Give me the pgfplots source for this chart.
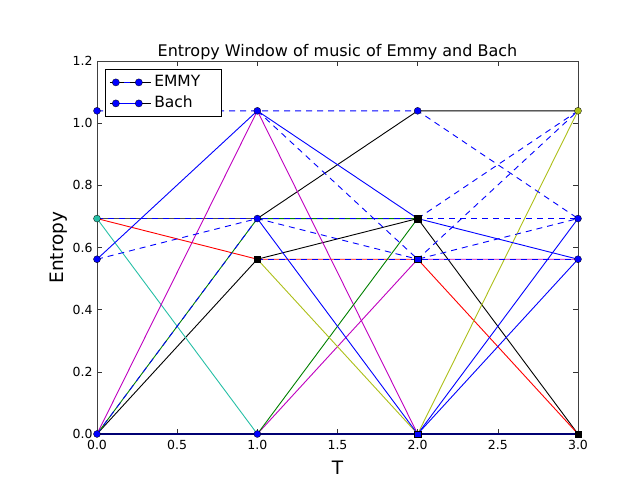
\documentclass[border=0pt]{standalone}
\usepackage{pgfplots}
\pgfplotsset{compat=1.18}
\usepackage{fontspec}
\setmainfont{DejaVu Sans}
\definecolor{mb}{rgb}{0,0,1}
\definecolor{mg}{rgb}{0,0.5,0}
\definecolor{mr}{rgb}{1,0,0}
\definecolor{mc}{rgb}{0.15,0.75,0.65}
\definecolor{mm}{rgb}{0.75,0,0.75}
\definecolor{my}{rgb}{0.68,0.75,0.1}
\definecolor{mk}{rgb}{0,0,0}
\definecolor{navy}{rgb}{0,0,0.45}
\begin{document}
\begin{tikzpicture}[x=1pt,y=1pt]
\path[use as bounding box] (0,0) rectangle (643,485);
\begin{axis}[
  at={(97pt,51pt)}, anchor=south west, scale only axis,
  width=481pt, height=373pt,
  xmin=0, xmax=3, ymin=0, ymax=1.2,
  xtick={0,0.5,1,1.5,2,2.5,3},
  ytick={0,0.2,0.4,0.6,0.8,1.0,1.2},
  xticklabel style={yshift=-3pt,/pgf/number format/.cd,fixed,fixed zerofill,precision=1},
  yticklabel style={xshift=-1pt,/pgf/number format/.cd,fixed,fixed zerofill,precision=1},
  /pgf/number format/assume math mode=true,
  tick label style={font=\fontsize{12.5}{14}\selectfont},
  tick align=inside, major tick length=5pt,
  tick style={black!80, line width=0.6pt},
  axis line style={black!75, line width=0.9pt},
  title={Entropy Window of music of Emmy and Bach},
  title style={font=\fontsize{16}{18}\selectfont, yshift=-8pt},
  xlabel={T}, ylabel={Entropy},
  xlabel style={font=\fontsize{18.5}{20}\selectfont, yshift=-4pt},
  ylabel style={font=\fontsize{18.5}{20}\selectfont, yshift=-2pt},
  legend style={at={(0,1)}, anchor=north west, xshift=8pt, yshift=-8pt,
    draw=black, line width=0.8pt, font=\fontsize{15.5}{17}\selectfont,
    inner xsep=4pt, inner ysep=5pt, row sep=5pt,
    nodes={text height=11pt, text depth=3pt, inner ysep=1pt, inner xsep=3pt},
    cells={anchor=west}},
  legend cell align=left,
  every axis plot/.append style={line width=0.9pt},
  clip=false
]
\def\A{0}
\def\B{0.5623}
\def\C{0.6931}
\def\D{1.0397}
% legend entries
\addlegendimage{legend image code/.code={
  \path (-6pt,0pt) -- (35pt,0pt);
  \draw[mb, line width=1pt] (0pt,0pt) -- (4pt,0pt) (8.5pt,0pt) -- (14.5pt,0pt) (19pt,0pt) -- (23pt,0pt);
  \filldraw[fill=mb, draw=black, line width=0.3pt] (0pt,0pt) circle (3.6pt) (23pt,0pt) circle (3.6pt);}}
\addlegendentry{\makebox[60pt][l]{EMMY}}
\addlegendimage{legend image code/.code={
  \path (-6pt,0pt) -- (35pt,0pt);
  \draw[mb, line width=1pt] (0pt,0pt) -- (23pt,0pt);
  \filldraw[fill=mb, draw=black, line width=0.3pt] (0pt,0pt) circle (3.6pt) (23pt,0pt) circle (3.6pt);}}
\addlegendentry{\makebox[60pt][l]{Bach}}
% colored lines
\addplot[mk, forget plot] coordinates {(0,\A) (1,\B) (2,\C) (3,\A)};
\addplot[black!70, line width=1.3pt, forget plot] coordinates {(0,\C) (1,\C)};
\addplot[mk, forget plot] coordinates {(1,\C) (2,\D) (3,\D)};
\addplot[mr, forget plot] coordinates {(0,\C) (1,\B) (2,\B) (3,\A)};
\addplot[mc, forget plot] coordinates {(0,\C) (1,\A)};
\addplot[mm, forget plot] coordinates {(0,\A) (1,\D) (2,\A)};
\addplot[mm, forget plot] coordinates {(1,\A) (2,\B) (3,\B)};
\addplot[mg, forget plot] coordinates {(0,\A) (1,\C) (2,\C)};
\addplot[mg, forget plot] coordinates {(1,\A) (2,\C)};
\addplot[my, forget plot] coordinates {(1,\B) (2,\A) (3,\D)};
% Bach solid
\addplot[mb, forget plot] coordinates {(0,\B) (1,\D) (2,\C) (3,\B)};
\addplot[mb, forget plot] coordinates {(1,\C) (2,\A) (3,\C)};
\addplot[mb, forget plot] coordinates {(2,\A) (3,\B)};
\addplot[navy, line width=1.4pt, forget plot] coordinates {(0,\A) (1,\A) (2,\A) (3,\A)};
% EMMY dashed
\addplot[mb, dash pattern=on 6pt off 5pt, forget plot] coordinates {(0,\D) (1,\D) (2,\D) (3,\C)};
\addplot[mb, dash pattern=on 6pt off 5pt, forget plot] coordinates {(0,\B) (1,\C) (2,\B) (3,\D)};
\addplot[mb, dash pattern=on 6pt off 5pt, forget plot] coordinates {(0,\C) (1,\C) (2,\C) (3,\C)};
\addplot[mb, dash pattern=on 6pt off 5pt, forget plot] coordinates {(1,\D) (2,\B) (3,\C)};
\addplot[mb, dash pattern=on 6pt off 5pt, forget plot] coordinates {(2,\C) (3,\D)};
\addplot[mb, dash pattern=on 6pt off 5pt, forget plot] coordinates {(0,\A) (1,\C)};
\addplot[mb, dash pattern=on 6pt off 5pt, forget plot] coordinates {(1,\B) (2,\B) (3,\B)};
% markers
\addplot[only marks, mark=*, mark size=3.5pt, mark options={fill=mb, draw=black, line width=0.3pt}, forget plot]
  coordinates {(0,\D) (1,\D) (2,\D) (0,\B) (1,\C) (3,\C) (3,\B) (0,\A) (1,\A)};
\addplot[only marks, mark=*, mark size=3.5pt, mark options={fill=mc, draw=black, line width=0.3pt}, forget plot]
  coordinates {(0,\C)};
\addplot[only marks, mark=*, mark size=3.5pt, mark options={fill=my, draw=black, line width=0.3pt}, forget plot]
  coordinates {(3,\D)};
\addplot[only marks, mark=square*, mark size=3.3pt, mark options={fill=black, draw=black, line width=0.3pt}, forget plot]
  coordinates {(1,\B) (2,\C) (3,\A)};
\addplot[only marks, mark=square*, mark size=3.3pt, mark options={fill=mb, draw=black, line width=0.3pt}, forget plot]
  coordinates {(2,\B) (2,\A)};
\end{axis}
\end{tikzpicture}
\end{document}
